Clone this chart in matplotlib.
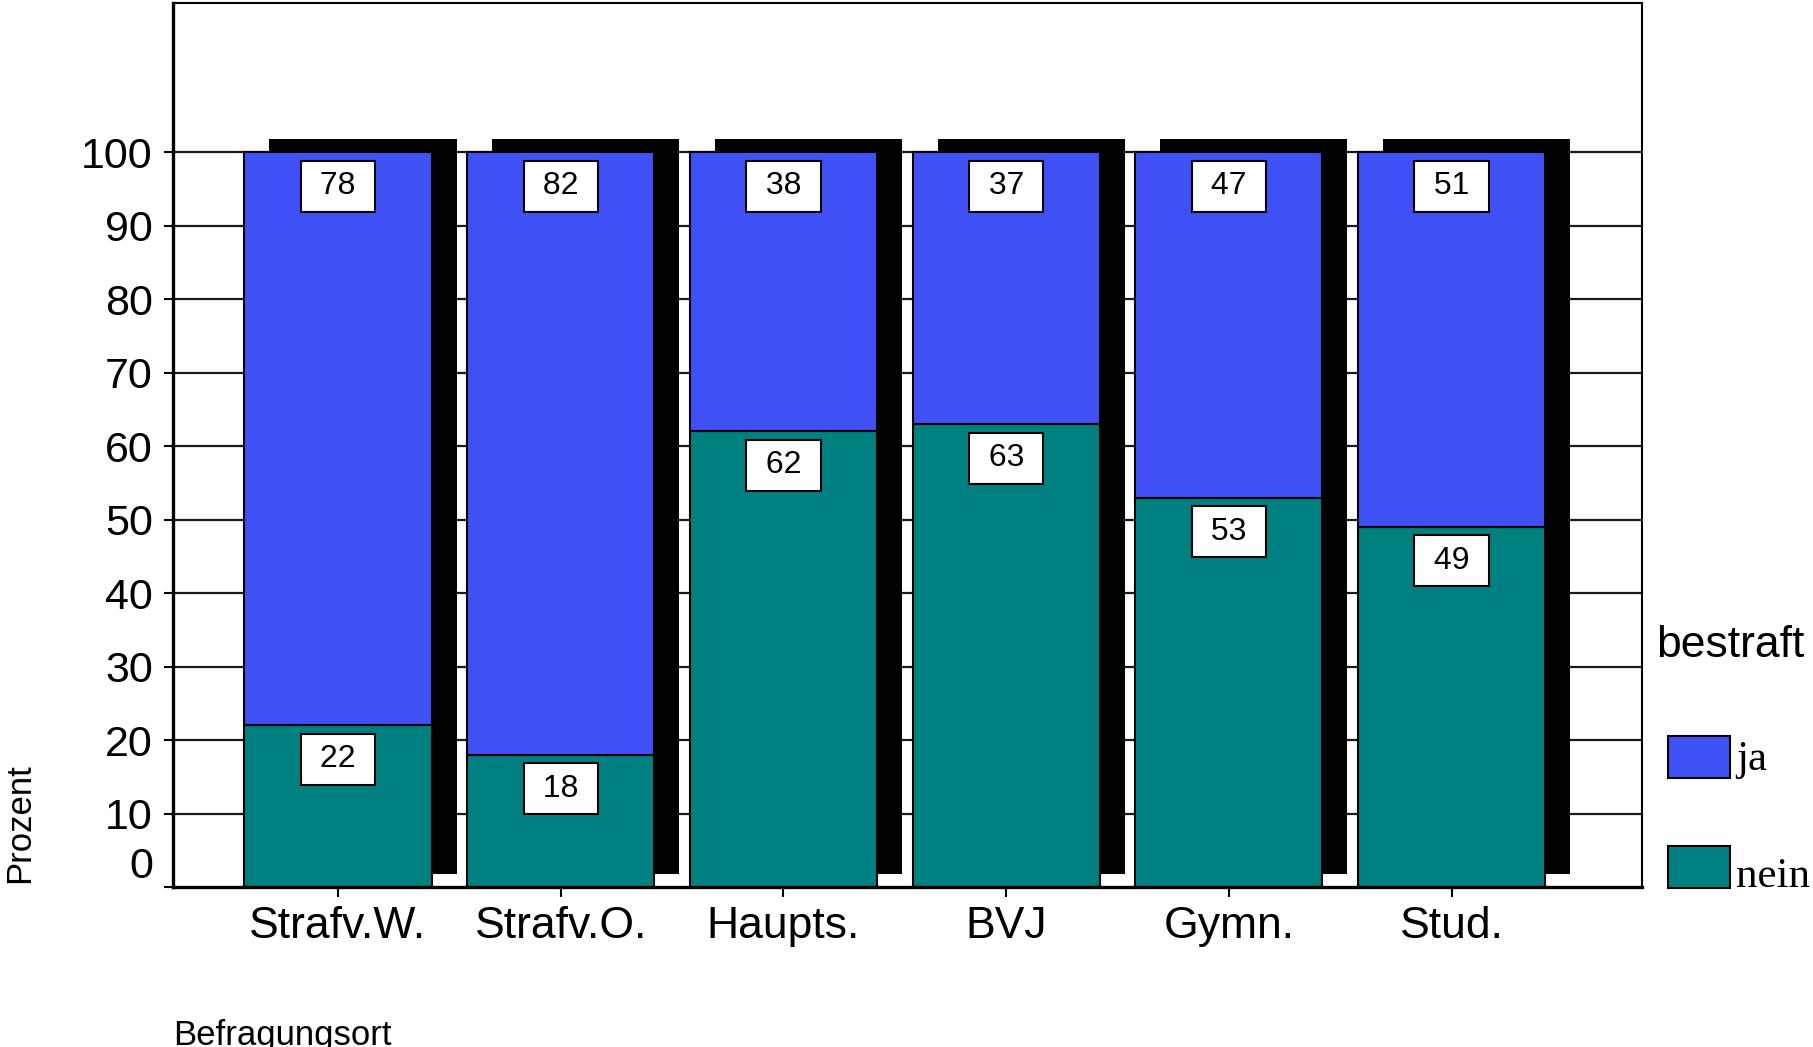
# stacked percent bars: bestraft (ja / nein) per Befragungsort

import matplotlib
matplotlib.use('Agg')
import matplotlib.pyplot as plt
from matplotlib.patches import Rectangle

# data
categories = ['Strafv.W.', 'Strafv.O.', 'Haupts.', 'BVJ', 'Gymn.', 'Stud.']
nein = [22, 18, 62, 63, 53, 49]
ja = [78, 82, 38, 37, 47, 51]
yticks = [0, 10, 20, 30, 40, 50, 60, 70, 80, 90, 100]

blue = '#3f51f5'
teal = '#008080'

W, H = 1813, 1047


def make_axes():
    """ set up figure and axes with the frame from the reference """
    plt.rcParams['font.family'] = ['Liberation Sans', 'DejaVu Sans']
    fig = plt.figure(figsize=(W / 100, H / 100), dpi=100)
    ax = fig.add_axes([173 / W, 1 - 887 / H, (1642 - 173) / W, (887 - 3) / H])
    ax.set_xlim(-0.741, 5.855)
    ax.set_ylim(0, 120.3)
    for side in ['left', 'bottom']:
        ax.spines[side].set_linewidth(2.4)
    for side in ['top', 'right']:
        ax.spines[side].set_linewidth(1.5)
    return fig, ax


def draw_bars(ax):
    x = range(len(categories))
    width = 0.84
    # horizontal lines behind everything
    for v in yticks[1:]:
        ax.axhline(v, color='#1a1a1a', lw=1.6, zorder=0)
    # black drop shadow, shifted right and up
    dx, dy = 0.112, 1.77
    totals = [a + b for a, b in zip(nein, ja)]
    ax.bar([i + dx for i in x], totals, width, bottom=dy, color='black',
           zorder=1)
    ax.bar(x, nein, width, color=teal, edgecolor='black', lw=1.5, zorder=2)
    ax.bar(x, ja, width, bottom=nein, color=blue, edgecolor='black', lw=1.5,
           zorder=2)

    # value boxes just under the top of each segment
    box = dict(boxstyle='square,pad=0.33', fc='white', ec='black', lw=1.5)
    for i in x:
        for val, top in [(ja[i], nein[i] + ja[i]), (nein[i], nein[i])]:
            ax.annotate(' %d ' % val, (i, top), xytext=(0, -34),
                        textcoords='offset pixels', ha='center', va='center',
                        fontsize=23, bbox=box, zorder=5)

    # axis ticks
    ax.set_yticks(yticks)
    ax.set_yticklabels([str(v) if v else '' for v in yticks])
    ax.tick_params(axis='y', length=6.5, width=1.5, pad=8, labelsize=31)
    # the zero label sits a little higher in the original
    ax.annotate('0', (0, 0), xycoords=('axes fraction', 'data'),
                xytext=(-20, 20), textcoords='offset pixels', ha='right',
                va='center', fontsize=31)
    ax.set_xticks(list(x))
    ax.set_xticklabels(categories)
    ax.tick_params(axis='x', length=7, width=1.5, pad=7, labelsize=32)


def draw_legend(fig):
    fig.text(1656 / W, 1 - 657 / H, 'bestraft', fontsize=32, va='baseline')
    entries = [('ja', blue, 736, 770), ('nein', teal, 846, 887)]
    for label, col, ytop, base in entries:
        fig.add_artist(Rectangle((1668 / W, 1 - (ytop + 42) / H), 62 / W,
                                 42 / H, transform=fig.transFigure, fc=col,
                                 ec='black', lw=1.5))
        fig.text(1736 / W, 1 - base / H, label, fontsize=31, va='baseline',
                 family=['Liberation Serif', 'DejaVu Serif'])


def main():
    fig, ax = make_axes()
    draw_bars(ax)
    draw_legend(fig)
    # axis titles
    fig.text(3 / W, 1 - 883 / H, 'Prozent', rotation=90, ha='left',
             va='bottom', fontsize=25)
    fig.text(173 / W, 2 / H, 'Befragungsort', fontsize=25, va='baseline')
    fig.savefig('out.png', dpi=100)


main()
